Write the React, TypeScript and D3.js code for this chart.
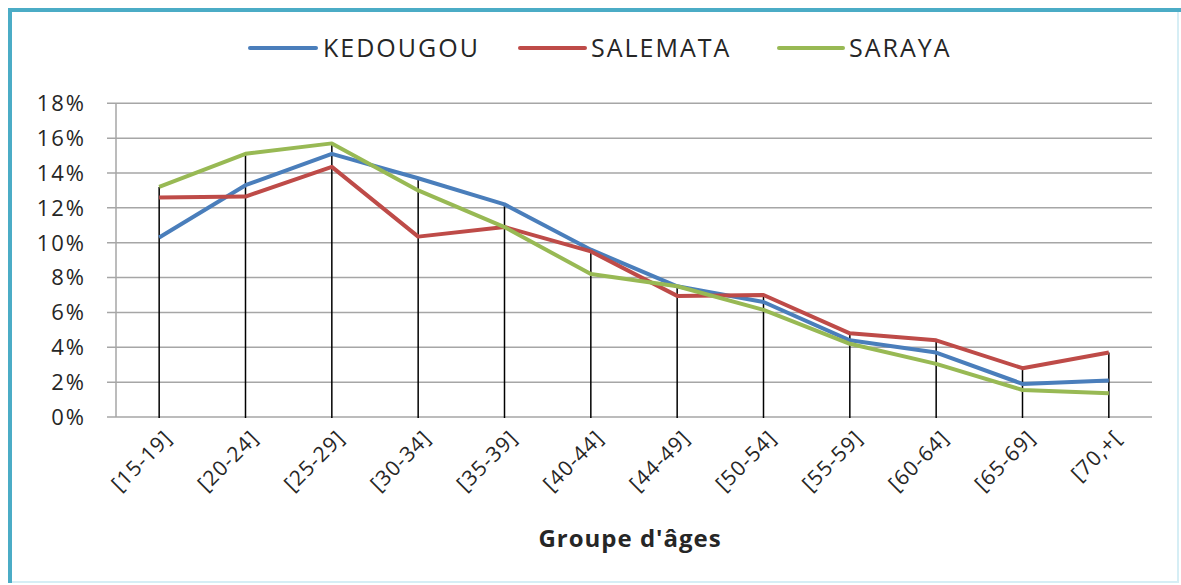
import React from "react";
import * as d3 from "d3";

const categories = ["[15-19]", "[20-24]", "[25-29]", "[30-34]", "[35-39]", "[40-44]", "[44-49]", "[50-54]", "[55-59]", "[60-64]", "[65-69]", "[70,+["];
const kedougou = [10.3, 13.3, 15.1, 13.7, 12.2, 9.6, 7.5, 6.6, 4.4, 3.7, 1.9, 2.1];
const salemata = [12.6, 12.65, 14.35, 10.35, 10.9, 9.5, 6.95, 7.0, 4.8, 4.4, 2.8, 3.7];
const saraya = [13.2, 15.1, 15.7, 13.0, 10.9, 8.2, 7.5, 6.15, 4.2, 3.05, 1.55, 1.36];
const yTicks = [0, 2, 4, 6, 8, 10, 12, 14, 16, 18];

const seriesNames = ["KEDOUGOU", "SALEMATA", "SARAYA"];
const seriesColors = ["#4a7ebb", "#be4b48", "#98b954"];
const seriesData = [kedougou, salemata, saraya];

export default function App() {
  const W = 1181, H = 585;
  const left = 116, right = 1152, top = 103.3, bottom = 417;
  const x = d3.scaleBand<string>().domain(categories).range([left, right]);
  const y = d3.scaleLinear().domain([0, 18]).range([bottom, top]);
  const cx = (c: string) => (x(c) as number) + x.bandwidth() / 2;
  const line = d3.line<number>().x((_, i) => cx(categories[i])).y((d) => y(d));
  const font = "'Open Sans', 'Liberation Sans', sans-serif";
  const legendItems = [
    { x1: 250, x2: 316, tx: 323 },
    { x1: 520, x2: 585, tx: 591 },
    { x1: 779, x2: 843, tx: 849 },
  ];
  return (
    <svg width={W} height={H} style={{ position: "absolute", left: 0, top: 0 }} fontFamily={font}>
      <rect x={0} y={0} width={W} height={H} fill="#ffffff" />
      <rect x={10} y={10} width={1168} height={572} fill="none" stroke="#d6eef5" strokeWidth={2} />
      <line x1={10} y1={8} x2={10} y2={583} stroke="#4bacc6" strokeWidth={4} />
      <line x1={8} y1={10} x2={1181} y2={10} stroke="#4bacc6" strokeWidth={4} />
      {/* gridlines */}
      {yTicks.map((t) => (
        <g key={t}>
          <line x1={107} x2={right} y1={y(t)} y2={y(t)} stroke="#a6a6a6" strokeWidth={1.5} />
          <text x={86} y={y(t)} dy="0.36em" textAnchor="end" fontSize={22} letterSpacing={2} fill="#262626">{t}%</text>
        </g>
      ))}
      <line x1={left} x2={left} y1={top} y2={bottom} stroke="#a6a6a6" strokeWidth={1.5} />
      {/* drop lines */}
      {categories.map((c, i) => {
        const m = Math.max(kedougou[i], salemata[i], saraya[i]);
        return <line key={c} x1={cx(c)} x2={cx(c)} y1={y(m)} y2={bottom + 1} stroke="#000" strokeWidth={1.5} />;
      })}
      {/* series */}
      {seriesData.map((d, i) => (
        <path key={i} d={line(d) as string} fill="none" stroke={seriesColors[i]} strokeWidth={4} strokeLinejoin="round" />
      ))}
      {/* x labels */}
      {categories.map((c) => (
        <text key={c} transform={`translate(${cx(c) + 9},${bottom + 17}) rotate(-45)`} textAnchor="end" dy="0.35em" fontSize={21} letterSpacing={1} fill="#262626">{c}</text>
      ))}
      <text x={630} y={547} textAnchor="middle" fontSize={24} letterSpacing={1} fontWeight="bold" fill="#262626">Groupe d'âges</text>
      {/* legend */}
      {seriesNames.map((n, i) => (
        <g key={n}>
          <line x1={legendItems[i].x1} x2={legendItems[i].x2} y1={48} y2={48} stroke={seriesColors[i]} strokeWidth={4} strokeLinecap="round" />
          <text x={legendItems[i].tx} y={48} dy="0.36em" fontSize={25} letterSpacing={2} fill="#262626">{n}</text>
        </g>
      ))}
    </svg>
  );
}
